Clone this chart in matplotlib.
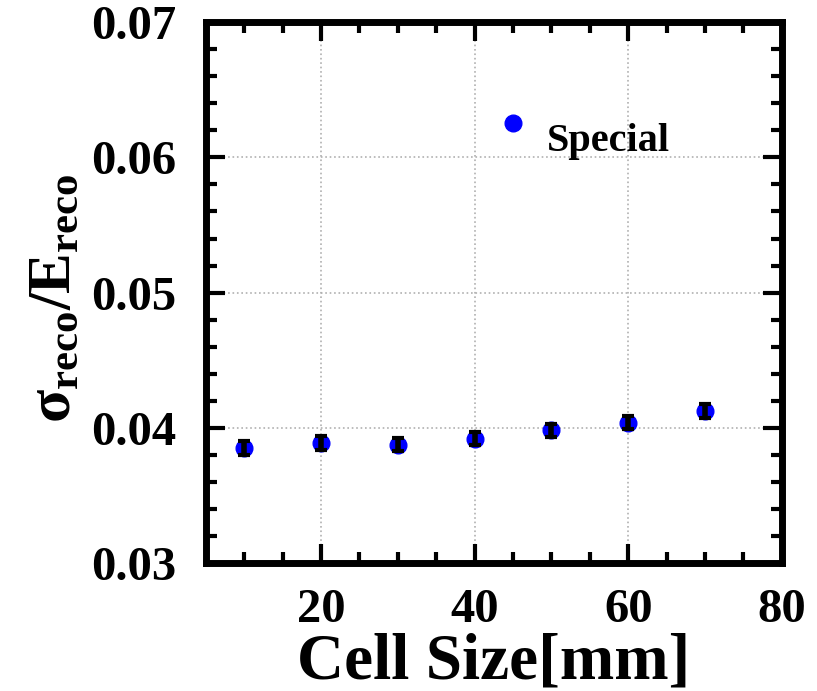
import matplotlib
matplotlib.use("Agg")
import matplotlib.pyplot as plt
from matplotlib.ticker import MultipleLocator, FixedLocator
import numpy as np

plt.rcParams['font.family'] = ['Liberation Serif', 'DejaVu Serif']
plt.rcParams['font.weight'] = 'bold'
plt.rcParams['mathtext.fontset'] = 'custom'
plt.rcParams['mathtext.rm'] = 'Liberation Serif:bold'
plt.rcParams['mathtext.it'] = 'Liberation Serif:bold'
plt.rcParams['mathtext.bf'] = 'Liberation Serif:bold'

# resolution vs cell size
cell_size = [10, 20, 30, 40, 50, 60, 70]
resolution = [0.03853, 0.03890, 0.03877, 0.03920, 0.03981, 0.04039, 0.04125]
res_err = [0.0005, 0.0005, 0.0005, 0.0005, 0.0005, 0.0005, 0.0005]

# special configuration
special_x = [45]
special_y = [0.06257]
special_label = "Special"

xticks = [20, 40, 60, 80]
yticks = [0.03, 0.04, 0.05, 0.06, 0.07]

fig = plt.figure(figsize=(8.17, 6.91), dpi=100)
ax = fig.add_axes([0.252, 0.185, 0.705, 0.783])

ax.plot(cell_size, resolution, 'o', color='blue', markersize=12, zorder=3)
ax.errorbar(cell_size, resolution, yerr=res_err, fmt='none', ecolor='black',
            elinewidth=4, capsize=4, capthick=3, zorder=4)
ax.plot(special_x, special_y, 'o', color='blue', markersize=12, zorder=3)
ax.text(49.4, 0.0605, special_label, fontsize=29, fontweight='bold')

ax.set_xlim(5, 80)
ax.set_ylim(0.03, 0.07)
ax.xaxis.set_major_locator(FixedLocator(xticks))
ax.xaxis.set_minor_locator(MultipleLocator(5))
ax.yaxis.set_major_locator(FixedLocator(yticks))
ax.yaxis.set_minor_locator(MultipleLocator(0.002))
ax.set_yticklabels(['%.2f' % v for v in yticks])

ax.grid(True, which='major', linestyle=':', color='#b0b0b0', linewidth=1.2)
ax.set_axisbelow(True)

for s in ax.spines.values():
    s.set_linewidth(5)
ax.tick_params(which='both', direction='in', top=True, right=True, width=3)
ax.tick_params(which='major', length=14)
ax.tick_params(which='minor', length=8)
ax.tick_params(axis='x', which='major', labelsize=35, pad=18)
ax.tick_params(axis='y', which='major', labelsize=35, pad=21)

ax.set_xlabel('Cell Size[mm]', fontsize=47, fontweight='bold')
ax.xaxis.set_label_coords(0.5, -0.128)
ax.set_ylabel(r'$\sigma_{reco}/E_{reco}$', fontsize=44)
ax.yaxis.set_label_coords(-0.214, 0.49)

fig.savefig('out.png', dpi=100)
